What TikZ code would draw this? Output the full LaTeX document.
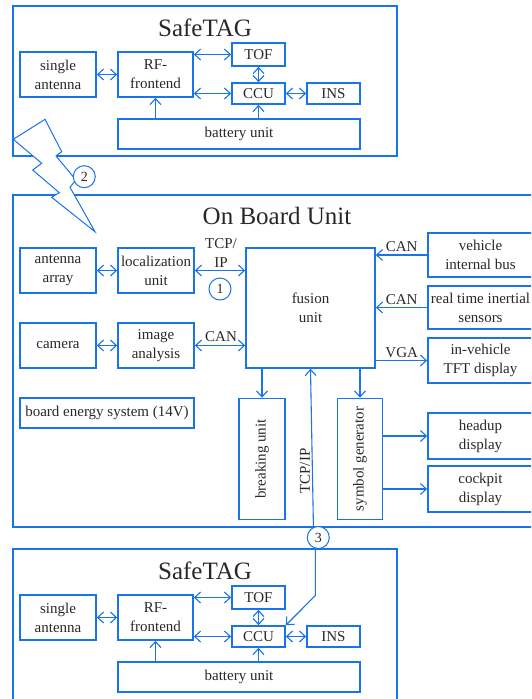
\documentclass[tikz,border=0pt]{standalone}
\usepackage{fontspec}
\setmainfont{Liberation Serif}
\usetikzlibrary{arrows.meta}
\definecolor{bl}{RGB}{25,115,235}
\definecolor{tx}{RGB}{40,40,40}
\tikzset{
 box/.style={draw=bl, line width=1.6pt, inner sep=0pt, align=center, text=tx, font=\fontsize{15}{19}\selectfont},
 frame/.style={draw=bl, line width=1.8pt, inner sep=0pt},
 arr/.style={draw=bl, line width=1.1pt, -{Straight Barb[length=6pt,width=11pt]}},
 darr/.style={draw=bl, line width=1.1pt, {Straight Barb[length=6pt,width=11pt]}-{Straight Barb[length=6pt,width=11pt]}},
 lbl/.style={text=tx, font=\fontsize{15}{19}\selectfont, inner sep=0pt, align=center},
 ttl/.style={text=tx, font=\fontsize{25}{30}\selectfont, inner sep=0pt},
 circ/.style={circle, draw=bl, fill=white, line width=1pt, minimum size=22pt, inner sep=0pt, text=tx, font=\fontsize{14}{16}\selectfont},
 bolt/.style={draw=bl, fill=white, line width=1pt, line join=miter},
}
\newcommand\tagblock[2]{%
\begin{scope}[yshift=-#1pt]
 \node[ttl] (#2title) at (205,28) {SafeTAG};
 \node[box, minimum width=76pt, minimum height=45pt] (#2sa) at (58,74.5) {single\\antenna};
 \node[box, minimum width=75pt, minimum height=45pt] (#2rf) at (155.5,74.5) {RF-\\frontend};
 \node[box, minimum width=53pt, minimum height=23pt] (#2tof) at (258.5,54.5) {TOF};
 \node[box, minimum width=53pt, minimum height=21pt] (#2ccu) at (258.5,93.5) {CCU};
 \node[box, minimum width=53pt, minimum height=21pt] (#2ins) at (333.5,93.5) {INS};
 \node[box, minimum width=242pt, minimum height=30pt] (#2bat) at (239,134) {battery unit};
 \draw[darr] (#2sa.east) -- (#2rf.west);
 \draw[darr] (#2rf.east |- #2tof.west) -- (#2tof.west);
 \draw[darr] (#2rf.east |- #2ccu.west) -- (#2ccu.west);
 \draw[darr] (#2tof.south) -- (#2ccu.north);
 \draw[darr] (#2ccu.east) -- (#2ins.west);
 \draw[arr] (#2rf.south |- #2bat.north) -- (#2rf.south);
 \draw[arr] (#2ccu.south |- #2bat.north) -- (#2ccu.south);
\end{scope}}
\begin{document}
\begin{tikzpicture}[x=1pt,y=-1pt]
\useasboundingbox (0,0) rectangle (531,699);
\clip (0,0) rectangle (531,699);

% frames
\node[frame, minimum width=384pt, minimum height=150pt] (topframe) at (205,81) {};
\node[frame, minimum width=384pt, minimum height=160pt] (botframe) at (205,629) {};
\node[frame, minimum width=522pt, minimum height=332pt] (obuframe) at (274,361) {};

% SafeTAG blocks
\tagblock{0}{t}
\tagblock{543}{b}

% On Board Unit
\node[ttl] (obutitle) at (277,216) {On Board Unit};
\node[box, minimum width=76pt, minimum height=45pt] (aa) at (58,270.5) {antenna\\array};
\node[box, minimum width=76pt, minimum height=45pt] (lu) at (156,270.5) {localization\\unit};
\node[box, minimum width=76pt, minimum height=45pt] (cam) at (58,345.5) {camera};
\node[box, minimum width=76pt, minimum height=45pt] (ia) at (156,345.5) {image\\analysis};
\node[box, minimum width=174pt, minimum height=30pt] (bes) at (107,413) {board energy system (14V)};
\node[box, minimum width=129pt, minimum height=120pt] (fu) at (310.5,308) {fusion\\unit};
\node[box, minimum width=105pt, minimum height=44pt] (vib) at (480.5,255) {vehicle\\internal bus};
\node[box, minimum width=105pt, minimum height=43pt] (rtis) at (480.5,307.5) {real time inertial\\sensors};
\node[box, minimum width=105pt, minimum height=45pt] (tft) at (480.5,360.5) {in-vehicle\\TFT display};
\node[box, minimum width=46pt, minimum height=121pt] (bu) at (262,459) {};
\node[lbl, rotate=90] (butxt) at (bu) {breaking unit};
\node[box, minimum width=45pt, minimum height=121pt] (sg) at (360,459) {};
\node[lbl, rotate=90] (sgtxt) at (sg) {symbol generator};
\node[box, minimum width=105pt, minimum height=46pt] (hud) at (480.5,436) {headup\\display};
\node[box, minimum width=105pt, minimum height=46pt] (cd) at (480.5,489) {cockpit\\display};

\draw[darr] (aa.east) -- (lu.west);
\draw[darr] (cam.east) -- (ia.west);
\draw[darr] (lu.east) -- (fu.west |- lu.east);
\draw[darr] (ia.east) -- (fu.west |- ia.east);
\node[lbl] (tcplbl) at (221,253.5) {TCP/\\IP};
\node[lbl] (can1) at (221,337) {CAN};
\draw[arr] (vib.west) -- (fu.east |- vib.west);
\draw[arr] (rtis.west) -- (fu.east |- rtis.west);
\draw[arr] (fu.east |- tft.west) -- (tft.west);
\node[lbl] (can2) at (401.7,247) {CAN};
\node[lbl] (can3) at (401.7,300) {CAN};
\node[lbl] (vga) at (401.7,353) {VGA};
\draw[arr] (fu.south -| bu.north) -- (bu.north);
\draw[arr] (fu.south -| sg.north) -- (sg.north);
\draw[arr] (sg.east |- hud.west) -- (hud.west);
\draw[arr] (sg.east |- cd.west) -- (cd.west);

% lightning bolt
\draw[bolt] (13.3,139.3) -- (45,119.3) -- (61.7,151.7) -- (56,156) -- (76,180) -- (70,187.3) -- (95,231.7) -- (51.7,197.3) -- (59.3,192.7) -- (32.7,170) -- (41.7,163.3) -- cycle;

% circles
\node[circ] (c1) at (220,289) {1};
\node[circ] (c2) at (84.3,176.7) {2};
\node[circ] (c3) at (318.3,537.5) {3};

% TCP/IP link
\draw[arr] (c3.115) -- (fu.south);
\draw[arr] (c3.255) -- ++(0,47) -- (bccu.north east);
\node[lbl, rotate=90] (tcpv) at (305,471) {TCP/IP};
\end{tikzpicture}
\end{document}
